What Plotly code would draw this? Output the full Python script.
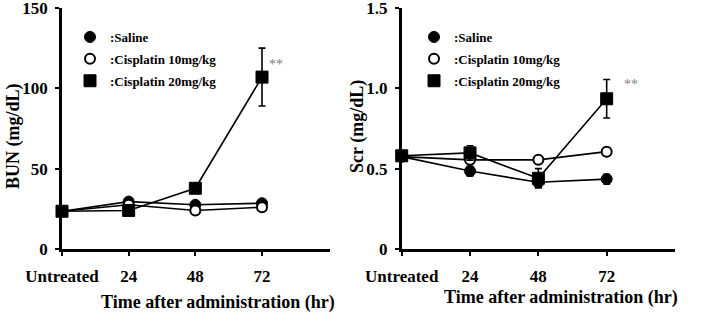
import plotly.graph_objects as go

# ---- data ----
categories = ["Untreated", "24", "48", "72"]

bun_saline = [23.5, 29.5, 27.5, 28.5]
bun_saline_err = [1.0, 1.5, 1.0, 1.0]
bun_cis10 = [23.5, 27.5, 24.0, 26.0]
bun_cis10_err = [1.0, 1.0, 1.0, 1.0]
bun_cis20 = [23.5, 24.0, 37.8, 107.0]
bun_cis20_err = [1.0, 1.5, 2.0, 18.0]

scr_saline = [0.575, 0.485, 0.415, 0.435]
scr_saline_err = [0.02, 0.03, 0.03, 0.03]
scr_cis10 = [0.575, 0.555, 0.555, 0.606]
scr_cis10_err = [0.02, 0.02, 0.02, 0.02]
scr_cis20 = [0.58, 0.598, 0.44, 0.935]
scr_cis20_err = [0.02, 0.045, 0.06, 0.12]

series_names = [":Saline", ":Cisplatin 10mg/kg", ":Cisplatin 20mg/kg"]
bun_yticks = [0, 50, 100, 150]
bun_yticktext = ["0", "50", "100", "150"]
scr_yticks = [0, 0.5, 1.0, 1.5]
scr_yticktext = ["0", "0.5", "1.0", "1.5"]

FONT = "Liberation Serif"

styles = [
    dict(symbol="circle", size=11, color="black", line=dict(color="black", width=1)),
    dict(symbol="circle", size=10, color="white", line=dict(color="black", width=2)),
    dict(symbol="square", size=12, color="black", line=dict(color="black", width=1)),
]

fig = go.Figure()

panels = [
    ("x", "y", "legend", [bun_saline, bun_cis10, bun_cis20], [bun_saline_err, bun_cis10_err, bun_cis20_err]),
    ("x2", "y2", "legend2", [scr_saline, scr_cis10, scr_cis20], [scr_saline_err, scr_cis10_err, scr_cis20_err]),
]

for xa, ya, lg, vals, errs in panels:
    for v in vals:
        fig.add_trace(go.Scatter(x=categories, y=v, mode="lines", xaxis=xa, yaxis=ya,
                                 line=dict(color="black", width=1.6), showlegend=False,
                                 cliponaxis=False, hoverinfo="skip"))
    for i, (v, e) in enumerate(zip(vals, errs)):
        fig.add_trace(go.Scatter(x=categories, y=v, mode="markers", xaxis=xa, yaxis=ya,
                                 marker=styles[i], name=series_names[i], legend=lg,
                                 legendgroup=lg + str(i),
                                 error_y=dict(type="data", array=e, visible=True,
                                              color="black", thickness=1.6, width=3.5),
                                 cliponaxis=False))

tickfont = dict(family=FONT + ", serif", size=17, color="black", weight="bold")
axis_common = dict(showline=True, linecolor="black", linewidth=2.5, ticks="outside",
                   ticklen=4, tickwidth=2, tickcolor="black", showgrid=False, zeroline=False,
                   automargin=False, ticklabeloverflow="allow", tickfont=tickfont)

xdom1 = [0, 268 / 613]
xdom2 = [339.7 / 613, 1.0]

legend_common = dict(xanchor="left", yanchor="top", bgcolor="rgba(0,0,0,0)",
                     font=dict(family=FONT, size=13, color="black", weight="bold"),
                     tracegroupgap=2, traceorder="grouped")

fig.update_layout(
    width=707, height=334,
    margin=dict(l=62, r=32, t=8, b=85, autoexpand=False),
    paper_bgcolor="white", plot_bgcolor="white",
    font=dict(family=FONT, color="black"),
    xaxis=dict(domain=xdom1, type="category", categoryorder="array", categoryarray=categories,
               range=[0, 4.02], ticklabelstandoff=6, anchor="y", **axis_common),
    yaxis=dict(domain=[0, 1], range=[0, 150], tickvals=bun_yticks, ticktext=bun_yticktext,
               ticklabelstandoff=4, anchor="x", **axis_common),
    xaxis2=dict(domain=xdom2, type="category", categoryorder="array", categoryarray=categories,
                range=[0, 4.0], ticklabelstandoff=6, anchor="y2", **axis_common),
    yaxis2=dict(domain=[0, 1], range=[0, 1.5], tickvals=scr_yticks, ticktext=scr_yticktext,
                ticklabelstandoff=4, anchor="x2", **axis_common),
    legend=dict(x=(70 - 62) / 613, y=(249 - 22) / 241, **legend_common),
    legend2=dict(x=(414 - 62) / 613, y=(249 - 22) / 241, **legend_common),
    showlegend=True,
)

title_font = dict(family=FONT, size=18, color="black")
annots = [
    dict(text="<b>BUN (mg/dL)</b>", x=(13 - 62) / 613, y=(249 - 136) / 241, textangle=-90),
    dict(text="<b>Scr (mg/dL)</b>", x=(357 - 62) / 613, y=(249 - 127) / 241, textangle=-90),
    dict(text="<b>Time after administration (hr)</b>", x=(218 - 62) / 613, y=(249 - 302) / 241),
    dict(text="<b>Time after administration (hr)</b>", x=(561 - 62) / 613, y=(249 - 297) / 241),
]
for a in annots:
    fig.add_annotation(xref="paper", yref="paper", xanchor="center", yanchor="middle",
                       showarrow=False, font=title_font, **a)

# significance marks
last = categories.index("72")
fig.add_annotation(x=last, y=bun_cis20[last], xref="x", yref="y", text="**",
                   showarrow=False, xshift=14, yshift=13,
                   font=dict(family=FONT, size=14, color="#808080"))
fig.add_annotation(x=last, y=scr_cis20[last], xref="x2", yref="y2", text="**",
                   showarrow=False, xshift=24, yshift=14,
                   font=dict(family=FONT, size=14, color="#808080"))

fig.write_html("out.html", config={"displayModeBar": False},
               post_script="document.body.style.margin='0';")
